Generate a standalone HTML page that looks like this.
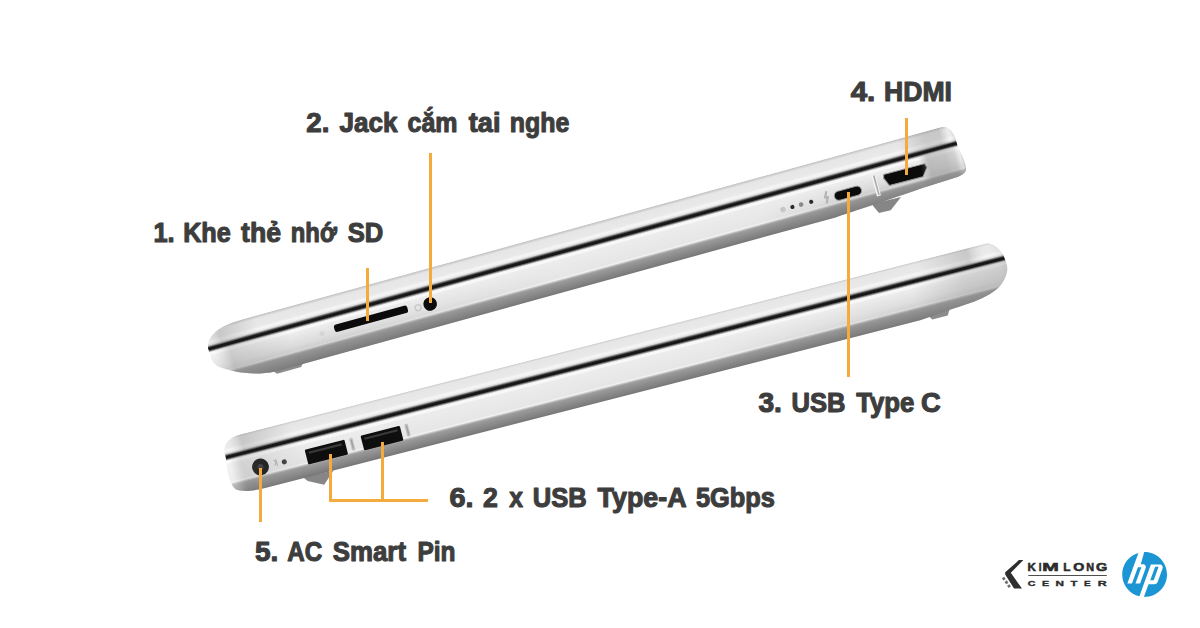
<!DOCTYPE html>
<html><head><meta charset="utf-8"><style>
html,body{margin:0;padding:0;background:#fff;}
body{width:1200px;height:628px;overflow:hidden;position:relative;}
svg{position:absolute;left:0;top:0;}
.t{font-family:"Liberation Sans",sans-serif;font-weight:bold;fill:#3d3d3d;stroke:#3d3d3d;stroke-width:1.1px;stroke-linejoin:round;}
</style></head><body>
<svg width="1200" height="628" viewBox="0 0 1200 628">
<defs>
<filter id="soft" x="-5%" y="-5%" width="110%" height="110%"><feGaussianBlur stdDeviation="0.9"/></filter>
<linearGradient id="bodyg" x1="0" y1="-40" x2="0" y2="60" gradientUnits="userSpaceOnUse">
<stop offset="0.0000" stop-color="#d2d2d2"/>
<stop offset="0.2000" stop-color="#d2d2d2"/>
<stop offset="0.2080" stop-color="#c6c6c6"/>
<stop offset="0.2200" stop-color="#d4d4d4"/>
<stop offset="0.2340" stop-color="#e6e6e6"/>
<stop offset="0.3100" stop-color="#e9e9e9"/>
<stop offset="0.3300" stop-color="#f5f5f5"/>
<stop offset="0.3500" stop-color="#f0f0f0"/>
<stop offset="0.3640" stop-color="#d2d2d2"/>
<stop offset="0.3760" stop-color="#6a6a6a"/>
<stop offset="0.3890" stop-color="#181818"/>
<stop offset="0.4090" stop-color="#161616"/>
<stop offset="0.4210" stop-color="#808080"/>
<stop offset="0.4350" stop-color="#f4f4f4"/>
<stop offset="0.4550" stop-color="#fafafa"/>
<stop offset="0.4700" stop-color="#ececec"/>
<stop offset="0.6400" stop-color="#e6e6e6"/>
<stop offset="0.6560" stop-color="#f3f3f3"/>
<stop offset="0.6680" stop-color="#c4c4c4"/>
<stop offset="0.6830" stop-color="#9c9c9c"/>
<stop offset="0.7200" stop-color="#8f8f8f"/>
<stop offset="0.7650" stop-color="#818181"/>
<stop offset="0.7850" stop-color="#787878"/>
<stop offset="1.0000" stop-color="#787878"/>
</linearGradient>

<linearGradient id="r1b" x1="500" x2="590" y1="0" y2="0" gradientUnits="userSpaceOnUse">
 <stop offset="0" stop-color="#8a8a8a" stop-opacity="0"/>
 <stop offset="0.4" stop-color="#8a8a8a" stop-opacity="0.0"/>
 <stop offset="0.5" stop-color="#8a8a8a" stop-opacity="0.45"/>
 <stop offset="0.7" stop-color="#8a8a8a" stop-opacity="0.4"/>
 <stop offset="0.8" stop-color="#9a9a9a" stop-opacity="0.3"/>
 <stop offset="0.86" stop-color="#ffffff" stop-opacity="0.25"/>
 <stop offset="0.9" stop-color="#8a8a8a" stop-opacity="0.3"/>
 <stop offset="1" stop-color="#7a7a7a" stop-opacity="0.5"/>
</linearGradient>
<linearGradient id="r1l" x1="520" x2="590" y1="0" y2="0" gradientUnits="userSpaceOnUse">
 <stop offset="0" stop-color="#909090" stop-opacity="0"/>
 <stop offset="0.4" stop-color="#909090" stop-opacity="0.35"/>
 <stop offset="0.62" stop-color="#909090" stop-opacity="0.35"/>
 <stop offset="0.75" stop-color="#ffffff" stop-opacity="0.3"/>
 <stop offset="0.85" stop-color="#909090" stop-opacity="0.3"/>
 <stop offset="1" stop-color="#808080" stop-opacity="0.4"/>
</linearGradient>
<linearGradient id="l1b" x1="-205" x2="-115" y1="0" y2="0" gradientUnits="userSpaceOnUse">
 <stop offset="0" stop-color="#ffffff" stop-opacity="0.2"/>
 <stop offset="0.12" stop-color="#ffffff" stop-opacity="0.2"/>
 <stop offset="0.3" stop-color="#8a8a8a" stop-opacity="0.3"/>
 <stop offset="1" stop-color="#8a8a8a" stop-opacity="0"/>
</linearGradient>
<linearGradient id="l1l" x1="-205" x2="-145" y1="0" y2="0" gradientUnits="userSpaceOnUse">
 <stop offset="0" stop-color="#ffffff" stop-opacity="0.1"/>
 <stop offset="0.35" stop-color="#8a8a8a" stop-opacity="0.35"/>
 <stop offset="1" stop-color="#8a8a8a" stop-opacity="0"/>
</linearGradient>

<linearGradient id="l2b" x1="-85" x2="5" y1="0" y2="0" gradientUnits="userSpaceOnUse">
 <stop offset="0" stop-color="#ffffff" stop-opacity="0.3"/>
 <stop offset="0.12" stop-color="#ffffff" stop-opacity="0.3"/>
 <stop offset="0.25" stop-color="#8a8a8a" stop-opacity="0.25"/>
 <stop offset="1" stop-color="#8a8a8a" stop-opacity="0"/>
</linearGradient>
<linearGradient id="l2l" x1="-85" x2="-5" y1="0" y2="0" gradientUnits="userSpaceOnUse">
 <stop offset="0" stop-color="#ffffff" stop-opacity="0.2"/>
 <stop offset="0.15" stop-color="#ffffff" stop-opacity="0.1"/>
 <stop offset="0.35" stop-color="#8a8a8a" stop-opacity="0.35"/>
 <stop offset="1" stop-color="#8a8a8a" stop-opacity="0"/>
</linearGradient>
<linearGradient id="r2b" x1="630" x2="735" y1="0" y2="0" gradientUnits="userSpaceOnUse">
 <stop offset="0" stop-color="#8a8a8a" stop-opacity="0"/>
 <stop offset="0.5" stop-color="#8a8a8a" stop-opacity="0.25"/>
 <stop offset="0.85" stop-color="#8a8a8a" stop-opacity="0.3"/>
 <stop offset="1" stop-color="#7a7a7a" stop-opacity="0.4"/>
</linearGradient>
<linearGradient id="r2l" x1="640" x2="735" y1="0" y2="0" gradientUnits="userSpaceOnUse">
 <stop offset="0" stop-color="#909090" stop-opacity="0"/>
 <stop offset="0.55" stop-color="#909090" stop-opacity="0.35"/>
 <stop offset="0.75" stop-color="#ffffff" stop-opacity="0.1"/>
 <stop offset="1" stop-color="#909090" stop-opacity="0.3"/>
</linearGradient>

<linearGradient id="vshade" x1="0" y1="8" x2="0" y2="40" gradientUnits="userSpaceOnUse">
 <stop offset="0" stop-color="#8a8a8a" stop-opacity="0"/>
 <stop offset="0.35" stop-color="#8a8a8a" stop-opacity="0.12"/>
 <stop offset="0.65" stop-color="#8a8a8a" stop-opacity="0.35"/>
 <stop offset="1" stop-color="#808080" stop-opacity="0.45"/>
</linearGradient>
<linearGradient id="hf1" x1="-200" x2="160" y1="0" y2="0" gradientUnits="userSpaceOnUse">
 <stop offset="0" stop-color="#fff"/>
 <stop offset="0.3" stop-color="#fff"/>
 <stop offset="1" stop-color="#000"/>
</linearGradient>
<linearGradient id="hf2" x1="420" x2="660" y1="0" y2="0" gradientUnits="userSpaceOnUse">
 <stop offset="0" stop-color="#000"/>
 <stop offset="1" stop-color="#fff"/>
</linearGradient>
<mask id="m1" maskUnits="userSpaceOnUse" x="-260" y="-40" width="1100" height="100"><rect x="-260" y="-40" width="1100" height="100" fill="url(#hf1)"/></mask>
<mask id="m2" maskUnits="userSpaceOnUse" x="-260" y="-40" width="1100" height="100"><rect x="-260" y="-40" width="1100" height="100" fill="url(#hf2)"/></mask>
<linearGradient id="hf1r" x1="370" x2="470" y1="0" y2="0" gradientUnits="userSpaceOnUse">
 <stop offset="0" stop-color="#000"/>
 <stop offset="1" stop-color="#fff"/>
</linearGradient>
<mask id="m1r" maskUnits="userSpaceOnUse" x="-260" y="-40" width="1100" height="100"><rect x="-260" y="-40" width="1100" height="100" fill="url(#hf1r)"/></mask>
</defs>
<g><g transform="translate(400,296.5) rotate(-15.376)"><path d="M479.6,36 L509.5,37 L496,47 L484,46.5 L480.7,39.4 Z" fill="#868686"/><path d="M-144,36 L-109,36 L-114,41.8 L-139,41.8 Z" fill="#8c8c8c"/></g><g transform="translate(400,296.5) rotate(-15.376)"><clipPath id="c1"><path d="M-198.9,0 C-198.5,-8 -191,-14.5 -181,-17 C-172,-19.2 -162,-19.8 -145,-19.8 L566,-19.8 C574,-19.8 577.5,-12 577.5,-4 L577.5,2.5 C579,10 580.5,20 580,25.5 C579.5,30 576,32 570,32.5 L545,33.5 C520,34.5 480,37.5 440,39.2 L-140,39.2 C-165,37.5 -183,27 -193,20 C-198,16 -199,10 -198.9,0 Z"/></clipPath><g clip-path="url(#c1)"><rect x="-260" y="-40" width="1100" height="100" fill="url(#bodyg)"/>
<rect x="350" y="8" width="250" height="34" fill="url(#vshade)" mask="url(#m1r)"/>
<rect x="-210" y="8" width="420" height="34" fill="url(#vshade)" mask="url(#m1)"/>
<rect x="-71.9" y="10" width="76" height="7.6" rx="2.6" fill="#0b0b0b"/>
<circle cx="27.1" cy="15.2" r="6.8" fill="#0d0d0d"/>
<circle cx="14.5" cy="15.6" r="3" fill="none" stroke="#c4c4c4" stroke-width="1.2"/>
<circle cx="-85" cy="15.2" r="2.6" fill="#d6d6d6"/>
<circle cx="392.3" cy="17.7" r="2.7" fill="#c6c6c6"/>
<circle cx="402.1" cy="17.7" r="2.1" fill="#2a2a2a"/>
<circle cx="411.2" cy="17.7" r="2.3" fill="#8a8a8a"/>
<circle cx="421.6" cy="17.7" r="2.1" fill="#2a2a2a"/>
<path d="M439,11.5 l-3,6 l3,0 l-3,6" fill="none" stroke="#b4b4b4" stroke-width="2.2" stroke-linejoin="round"/>
<rect x="445.3" y="14.6" width="28" height="9.2" rx="4.6" fill="#0b0b0b" stroke="#a0a0a0" stroke-width="0.9"/>
<rect x="486.5" y="8" width="4" height="22" fill="#f6f6f6"/>
<rect x="488" y="9" width="1.6" height="20" fill="#a8a8a8"/>
<path d="M498.7,10.5 L541.1,11 L542.3,15.2 L536,23.3 L501.3,22.8 L497.7,14.1 Z" fill="#0b0b0b" stroke="#9a9a9a" stroke-width="1" stroke-linejoin="round"/>
<rect x="500" y="3" width="90" height="40" fill="url(#r1b)"/>
<rect x="520" y="-22" width="70" height="20" fill="url(#r1l)"/>
<rect x="-205" y="3" width="90" height="40" fill="url(#l1b)"/>
<rect x="-205" y="-22" width="60" height="20" fill="url(#l1l)"/>
</g></g></g>
<g><g transform="translate(300,438.6) rotate(-14.359)"><path d="M-6.7,38.2 L24.5,39.3 L12,50.6 L-3.1,43.1 Z" fill="#868686"/><path d="M638,35 L662,35 L658,41.5 L642,41.5 Z" fill="#8c8c8c"/></g><g transform="translate(300,438.6) rotate(-14.359)"><clipPath id="c2"><path d="M-76.6,0 L-76.7,-4.3 C-76,-10 -73,-14 -70.2,-15.6 C-66,-17.5 -62,-18.8 -56,-18.8 L712,-18.8 C720,-18.8 725,-10 726.8,-4 L727.5,2 C728.5,6 728,11 725.7,14.9 C722,22 715,28 706,30.5 C698,33 688,35 673.7,35.5 C660,36 650,37.5 630,39.2 L-45,39.2 C-60,39.2 -70,37 -75,33 C-78,29 -78.4,20 -78.4,16 L-77.35,5.4 Z"/></clipPath><g clip-path="url(#c2)"><rect x="-260" y="-40" width="1100" height="100" fill="url(#bodyg)"/>
<rect x="400" y="8" width="340" height="34" fill="url(#vshade)" mask="url(#m2)"/>
<circle cx="-45.3" cy="17.7" r="8.4" fill="#111"/>
<circle cx="-45.3" cy="17.7" r="3" fill="#333"/>
<path d="M-31,14 l2,3 l-2,3 M-28.5,14 l0,7" fill="none" stroke="#b8b8b8" stroke-width="1.1"/>
<circle cx="-21" cy="18.6" r="2.5" fill="#3c3c3c"/>
<rect x="1.7" y="12" width="41" height="15.3" rx="1.2" fill="#0e0e0e"/>
<rect x="5" y="14.8" width="34" height="2.2" fill="#3a3a3a"/>
<rect x="59.3" y="12.2" width="40.5" height="15.3" rx="1.2" fill="#0e0e0e"/>
<rect x="62.5" y="15" width="34" height="2.2" fill="#3a3a3a"/>
<rect x="47.5" y="12" width="3.5" height="13" rx="1" fill="#c0c0c0"/><rect x="48.6" y="14" width="1.3" height="9" fill="#a0a0a0"/>
<rect x="104.5" y="12" width="3.5" height="13" rx="1" fill="#c0c0c0"/><rect x="105.6" y="14" width="1.3" height="9" fill="#a0a0a0"/>
<rect x="-85" y="3" width="90" height="40" fill="url(#l2b)"/>
<rect x="-85" y="-22" width="80" height="20" fill="url(#l2l)"/>
<rect x="630" y="3" width="105" height="40" fill="url(#r2b)"/>
<rect x="640" y="-22" width="95" height="20" fill="url(#r2l)"/>
</g></g></g>

<g fill="#f4aa3c">
<rect x="366" y="268" width="3" height="53"/>
<rect x="429" y="153" width="3" height="150"/>
<rect x="847" y="192" width="3" height="185"/>
<rect x="905" y="118" width="3" height="57"/>
<rect x="259" y="468" width="3" height="54"/>
<rect x="329" y="454" width="3" height="48"/>
<rect x="381" y="442" width="3" height="60"/>
<rect x="329" y="499" width="99" height="3"/>
</g>
<text class="t" x="153.45" y="242.40" font-size="27.4" textLength="21.24" lengthAdjust="spacingAndGlyphs">1.</text>
<text class="t" x="183.14" y="242.40" font-size="27.4" textLength="47.71" lengthAdjust="spacingAndGlyphs">Khe</text>
<text class="t" x="241.11" y="242.40" font-size="27.4" textLength="39.99" lengthAdjust="spacingAndGlyphs">thẻ</text>
<text class="t" x="290.82" y="242.40" font-size="27.4" textLength="46.04" lengthAdjust="spacingAndGlyphs">nhớ</text>
<text class="t" x="347.74" y="242.40" font-size="27.4" textLength="35.58" lengthAdjust="spacingAndGlyphs">SD</text>
<text class="t" x="306.36" y="132.40" font-size="27.4" textLength="23.12" lengthAdjust="spacingAndGlyphs">2.</text>
<text class="t" x="339.47" y="132.40" font-size="27.4" textLength="58.07" lengthAdjust="spacingAndGlyphs">Jack</text>
<text class="t" x="407.62" y="132.40" font-size="27.4" textLength="49.93" lengthAdjust="spacingAndGlyphs">cắm</text>
<text class="t" x="468.85" y="132.40" font-size="27.4" textLength="31.58" lengthAdjust="spacingAndGlyphs">tai</text>
<text class="t" x="509.78" y="132.40" font-size="27.4" textLength="59.63" lengthAdjust="spacingAndGlyphs">nghe</text>
<text class="t" x="758.48" y="412.40" font-size="27.4" textLength="23.46" lengthAdjust="spacingAndGlyphs">3.</text>
<text class="t" x="791.48" y="412.40" font-size="27.4" textLength="54.01" lengthAdjust="spacingAndGlyphs">USB</text>
<text class="t" x="856.14" y="412.40" font-size="27.4" textLength="58.28" lengthAdjust="spacingAndGlyphs">Type</text>
<text class="t" x="921.12" y="412.40" font-size="27.4" textLength="19.74" lengthAdjust="spacingAndGlyphs">C</text>
<text class="t" x="850.68" y="101.20" font-size="27.4" textLength="24.61" lengthAdjust="spacingAndGlyphs">4.</text>
<text class="t" x="884.10" y="101.20" font-size="27.4" textLength="67.85" lengthAdjust="spacingAndGlyphs">HDMI</text>
<text class="t" x="254.90" y="561.30" font-size="27.4" textLength="23.31" lengthAdjust="spacingAndGlyphs">5.</text>
<text class="t" x="287.19" y="561.30" font-size="27.4" textLength="34.93" lengthAdjust="spacingAndGlyphs">AC</text>
<text class="t" x="332.72" y="561.30" font-size="27.4" textLength="73.28" lengthAdjust="spacingAndGlyphs">Smart</text>
<text class="t" x="417.49" y="561.30" font-size="27.4" textLength="38.11" lengthAdjust="spacingAndGlyphs">Pin</text>
<text class="t" x="449.46" y="507.40" font-size="27.4" textLength="24.01" lengthAdjust="spacingAndGlyphs">6.</text>
<text class="t" x="483.09" y="507.40" font-size="27.4" textLength="14.83" lengthAdjust="spacingAndGlyphs">2</text>
<text class="t" x="509.25" y="507.40" font-size="27.4" textLength="13.75" lengthAdjust="spacingAndGlyphs">x</text>
<text class="t" x="532.84" y="507.40" font-size="27.4" textLength="54.01" lengthAdjust="spacingAndGlyphs">USB</text>
<text class="t" x="597.58" y="507.40" font-size="27.4" textLength="89.00" lengthAdjust="spacingAndGlyphs">Type-A</text>
<text class="t" x="695.92" y="507.40" font-size="27.4" textLength="79.07" lengthAdjust="spacingAndGlyphs">5Gbps</text>


<polygon points="1018.9,560.1 1023.4,560.1 1010.8,572.8 1022,588.6 1014,588.6 1005.2,574.6 1005.2,572.3" fill="#2e2e2e"/>
<g fill="#6e6e6e"><rect x="-1.4" y="-1.4" width="2.8" height="2.8" transform="translate(1003.8,578.6) rotate(-35)"/><rect x="-1.4" y="-1.4" width="2.8" height="2.8" transform="translate(1006.5,582.3) rotate(-35)"/><rect x="-1.4" y="-1.4" width="2.8" height="2.8" transform="translate(1009,586.1) rotate(-35)"/></g>
<rect x="1028.3" y="575" width="78.5" height="0.9" fill="#3a3a3a"/>
<text x="1027.54" y="570.7" font-family="Liberation Sans" font-weight="bold" font-size="11.6" fill="#2b2b2b" stroke="#2b2b2b" stroke-width="0.55" textLength="8.40" lengthAdjust="spacingAndGlyphs">K</text><text x="1038.66" y="570.7" font-family="Liberation Sans" font-weight="bold" font-size="11.6" fill="#2b2b2b" stroke="#2b2b2b" stroke-width="0.55" textLength="2.74" lengthAdjust="spacingAndGlyphs">I</text><text x="1042.30" y="570.7" font-family="Liberation Sans" font-weight="bold" font-size="11.6" fill="#2b2b2b" stroke="#2b2b2b" stroke-width="0.55" textLength="16.53" lengthAdjust="spacingAndGlyphs">M</text><text x="1063.26" y="570.7" font-family="Liberation Sans" font-weight="bold" font-size="11.6" fill="#2b2b2b" stroke="#2b2b2b" stroke-width="0.55" textLength="7.24" lengthAdjust="spacingAndGlyphs">L</text><text x="1073.30" y="570.7" font-family="Liberation Sans" font-weight="bold" font-size="11.6" fill="#2b2b2b" stroke="#2b2b2b" stroke-width="0.55" textLength="11.05" lengthAdjust="spacingAndGlyphs">O</text><text x="1086.25" y="570.7" font-family="Liberation Sans" font-weight="bold" font-size="11.6" fill="#2b2b2b" stroke="#2b2b2b" stroke-width="0.55" textLength="7.81" lengthAdjust="spacingAndGlyphs">N</text><text x="1096.14" y="570.7" font-family="Liberation Sans" font-weight="bold" font-size="11.6" fill="#2b2b2b" stroke="#2b2b2b" stroke-width="0.55" textLength="11.33" lengthAdjust="spacingAndGlyphs">G</text><text x="1027.79" y="585.6" font-family="Liberation Sans" font-weight="bold" font-size="7.8" fill="#2b2b2b" stroke="#2b2b2b" stroke-width="0.35" textLength="7.66" lengthAdjust="spacingAndGlyphs">C</text><text x="1041.91" y="585.6" font-family="Liberation Sans" font-weight="bold" font-size="7.8" fill="#2b2b2b" stroke="#2b2b2b" stroke-width="0.35" textLength="7.14" lengthAdjust="spacingAndGlyphs">E</text><text x="1055.61" y="585.6" font-family="Liberation Sans" font-weight="bold" font-size="7.8" fill="#2b2b2b" stroke="#2b2b2b" stroke-width="0.35" textLength="8.45" lengthAdjust="spacingAndGlyphs">N</text><text x="1070.58" y="585.6" font-family="Liberation Sans" font-weight="bold" font-size="7.8" fill="#2b2b2b" stroke="#2b2b2b" stroke-width="0.35" textLength="6.93" lengthAdjust="spacingAndGlyphs">T</text><text x="1084.13" y="585.6" font-family="Liberation Sans" font-weight="bold" font-size="7.8" fill="#2b2b2b" stroke="#2b2b2b" stroke-width="0.35" textLength="6.68" lengthAdjust="spacingAndGlyphs">E</text><text x="1097.78" y="585.6" font-family="Liberation Sans" font-weight="bold" font-size="7.8" fill="#2b2b2b" stroke="#2b2b2b" stroke-width="0.35" textLength="8.98" lengthAdjust="spacingAndGlyphs">R</text>

<g transform="translate(1122.2,552) scale(1.867)"><path fill="#1b95d3" d="M12 24c-.12 0-.24 0-.36-.004l2.453-6.74h3.376c.592 0 1.243-.457 1.447-1.01l2.66-7.315c.436-1.198-.25-2.178-1.523-2.178h-4.685l-3.93 10.802h-.002L9.21 23.677C3.96 22.424 0 17.673 0 12 0 6.513 3.683 1.885 8.71.514L6.485 6.604H6.48l-3.726 10.25h2.483l3.173-8.712h1.866l-3.173 8.713 2.482.002 2.958-8.13c.434-1.198-.25-2.18-1.522-2.18H9.946L11.8.002C11.866 0 11.933 0 12 0c6.627 0 12 5.373 12 12s-5.373 12-12 12zm7.5-16.09h-1.866l-2.613 7.183h1.865L19.5 7.91z"/></g>

</svg>
</body></html>
